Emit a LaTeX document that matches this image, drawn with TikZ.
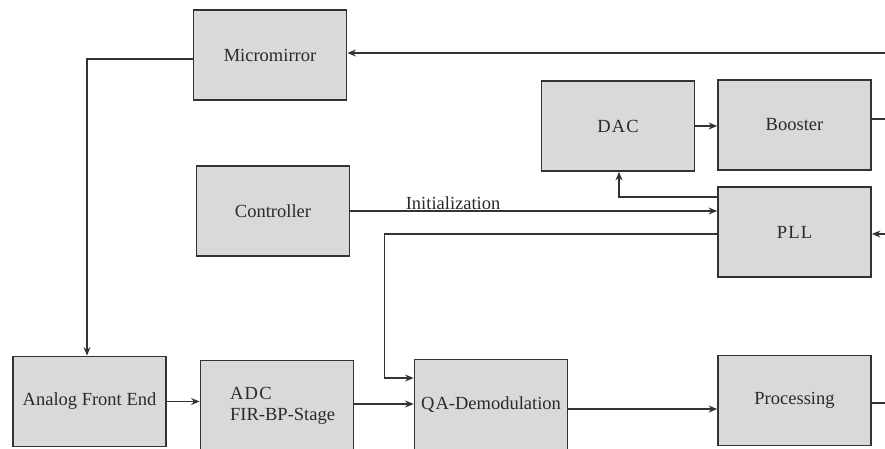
\documentclass[tikz,border=0pt]{standalone}
\usepackage{fontspec}
\setmainfont{Liberation Serif}
\usetikzlibrary{arrows.meta}
\definecolor{ln}{HTML}{333333}
\definecolor{bx}{HTML}{D9D9D9}
\definecolor{tx}{HTML}{2A2A2A}
\tikzset{
  blk/.style={draw=ln, fill=bx, line width=1.8pt, minimum width=153pt, minimum height=90pt,
    inner sep=0pt, text=tx, font=\fontsize{18.5}{21}\selectfont},
  conn/.style={draw=ln, line width=1.2pt},
  arr/.style={conn, -{Stealth[length=8.5pt,width=7pt]}},
  lbl/.style={text=tx, font=\fontsize{18.5}{21}\selectfont, inner sep=1pt}
}
\newcommand{\spc}{\kern1.2pt}
\begin{document}
\begin{tikzpicture}[x=1pt,y=-1pt]
\useasboundingbox (0,0) rectangle (885,448);
\clip (0,0) rectangle (885,448);
% blocks
\node[blk] (mm)    at (270,55)    {Micromirror};
\node[blk] (dac)   at (618,126)   {D\spc A\spc C};
\node[blk] (boost) at (794.5,125) {Booster};
\node[blk] (ctrl)  at (273,211)   {Controller};
\node[blk] (pll)   at (794.5,232) {P\spc L\spc L};
\node[blk] (afe)   at (89.5,401.5){Analog Front End};
\node[blk] (adc)   at (277,405.5) {};
\node[lbl, align=left, anchor=north west] (adct) at (229,386) {A\spc D\spc C\\FIR-BP-Stage};
\node[blk] (qa)    at (491,404.5) {Q\spc A-Demodulation};
\node[blk] (proc)  at (794.5,400.5){Processing};
% free ends
\coordinate (rin1) at (885,53);
\coordinate (bout) at (885,119);
\coordinate (rin2) at (885,234);
\coordinate (pout) at (885,403);
% connectors
\draw[arr] (rin1) -- (rin1 -| mm.east);
\draw[arr] ([yshift=-4pt]mm.west) -| ([xshift=-2.5pt]afe.north);
\draw[arr] (dac.east) -- (dac.east -| boost.west);
\draw[conn] ([yshift=6pt]boost.east) -- (bout);
\draw[arr] ([yshift=35pt]pll.west) -| ([xshift=1pt]dac.south);
\draw[arr] (ctrl.east) -- node[lbl, above, pos=0.28] (init) {Initialization} (ctrl.east -| pll.west);
\draw[arr] ([yshift=-2pt]pll.west) -| ([xshift=-29pt,yshift=26.5pt]qa.west) -- ([yshift=26.5pt]qa.west);
\draw[arr] (rin2) -- (rin2 -| pll.east);
\draw[arr] (afe.east) -- (afe.east -| adc.west);
\draw[arr] ([yshift=1.5pt]adc.east) -- ([yshift=1.5pt]adc.east -| qa.west);
\draw[arr] ([yshift=-4.5pt]qa.east) -- ([yshift=-4.5pt]qa.east -| proc.west);
\draw[conn] ([yshift=-2.5pt]proc.east) -- (pout);
\end{tikzpicture}
\end{document}
